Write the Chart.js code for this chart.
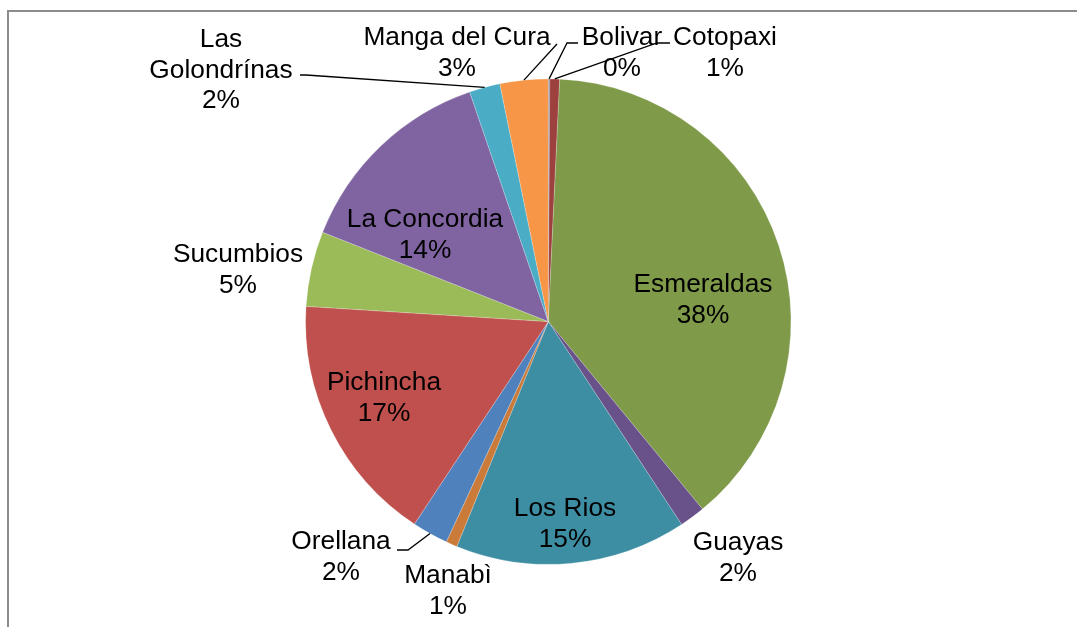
<!DOCTYPE html>
<html><head><meta charset="utf-8">
<script src="https://cdn.jsdelivr.net/npm/chart.js@4/dist/chart.umd.min.js"></script>
<style>html,body{margin:0;padding:0;background:#fff;overflow:hidden}#wrap{position:relative;width:1077px;height:627px}</style>
</head><body><div id="wrap"><canvas id="c" width="1077" height="627"></canvas></div>
<script>
// ---- data ----
const categories = ['Bolivar','Cotopaxi','Esmeraldas','Guayas','Los Rios','Manabì','Orellana','Pichincha','Sucumbios','La Concordia','Las Golondrínas','Manga del Cura'];
const values = [0.1, 0.65, 38.3, 1.7, 15.4, 0.75, 2.4, 16.7, 5.0, 13.75, 2.05, 3.2];

// ---- styles / layout ----
const colors = ['#5E7FA8','#9D413F','#7F9A49','#69518A','#3D8DA3','#CB7B39','#4F81BD','#C0504D','#9BBB59','#8064A2','#4BACC6','#F79646'];
// label anchor: centre x, baseline of first line; wrap splits name at first space
const labelLayout = [
  {x:622, y:45},
  {x:725, y:45},
  {x:703, y:292},
  {x:738, y:550},
  {x:565, y:516},
  {x:448, y:583},
  {x:341, y:549},
  {x:384, y:390},
  {x:238, y:262},
  {x:425, y:227},
  {x:221, y:47, wrap:true},
  {x:457, y:45}
];
// leader line points from the label side (rim end computed from the slice)
const leaders = {
  0: [[578,43],[567,43]],
  1: [[670,43],[657,43]],
  6: [[397,550],[408,550]],
  10: [[300,75],[306,75]],
  11: [[557,44]]
};
const LINE_H = 30.5;

const total = values.reduce((a,b)=>a+b,0);

const labelPlugin = {
  id:'labels',
  beforeDraw(chart){
    const ctx = chart.ctx;
    ctx.save();
    ctx.fillStyle='#fff';ctx.fillRect(0,0,chart.width,chart.height);
    ctx.strokeStyle='#8c8c8c';ctx.lineWidth=2;
    ctx.beginPath();ctx.moveTo(8,627);ctx.lineTo(8,11);ctx.lineTo(1077,11);ctx.stroke();
    ctx.restore();
  },
  afterDatasetsDraw(chart){
    const ctx = chart.ctx;
    const meta = chart.getDatasetMeta(0);
    ctx.save();
    ctx.strokeStyle='#000';ctx.lineWidth=1.3;
    Object.keys(leaders).forEach(k=>{
      const arc = meta.data[k];
      const p = arc.getProps(['x','y','startAngle','endAngle','outerRadius'],true);
      const mid = (p.startAngle+p.endAngle)/2;
      const rx = p.x + Math.cos(mid)*p.outerRadius;
      const ry = p.y + Math.sin(mid)*p.outerRadius;
      const pts = leaders[k];
      ctx.beginPath();
      ctx.moveTo(pts[0][0],pts[0][1]);
      for(let i=1;i<pts.length;i++) ctx.lineTo(pts[i][0],pts[i][1]);
      ctx.lineTo(rx,ry);
      ctx.stroke();
    });
    ctx.fillStyle='#000';
    ctx.font='26.3px "Liberation Sans", Arial, sans-serif';
    ctx.textAlign='center';ctx.textBaseline='alphabetic';
    categories.forEach((name,i)=>{
      const L = labelLayout[i];
      let lines = L.wrap ? [name.slice(0,name.indexOf(' ')), name.slice(name.indexOf(' ')+1)] : [name];
      lines.push(Math.round(values[i]/total*100)+'%');
      lines.forEach((t,j)=>ctx.fillText(t,L.x,L.y+j*LINE_H));
    });
    ctx.restore();
  }
};

new Chart(document.getElementById('c'),{
  type:'pie',
  data:{labels:categories,datasets:[{data:values,backgroundColor:colors,borderColor:'rgba(255,255,255,0.35)',borderWidth:0.6}]},
  options:{
    responsive:false,animation:false,devicePixelRatio:1,
    layout:{padding:{left:305.3,right:285.7,top:78.6,bottom:62.4}},
    plugins:{legend:{display:false},tooltip:{enabled:false}}
  },
  plugins:[labelPlugin]
});
</script></body></html>
